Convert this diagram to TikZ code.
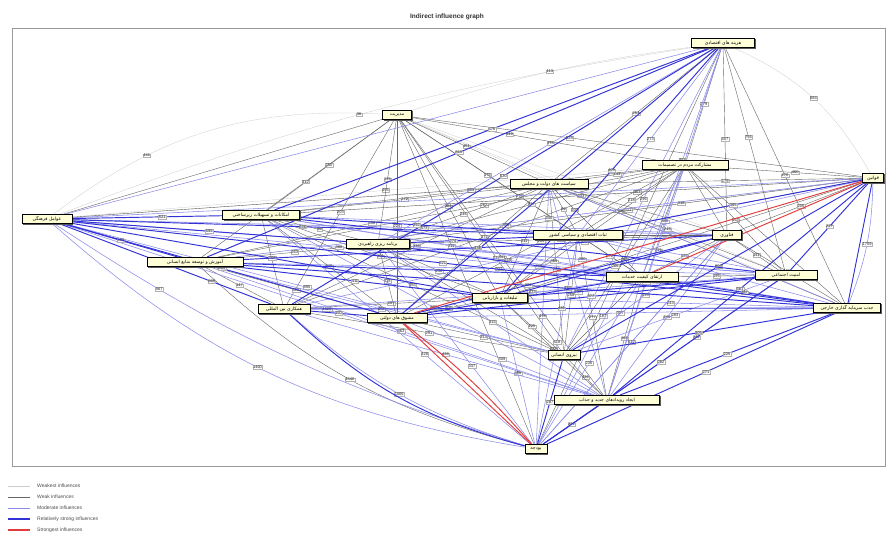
\documentclass[tikz,border=0pt]{standalone}
\usepackage{fontspec}
\setmainfont{Liberation Sans}
\newfontfamily\arabicfont[Script=Arabic]{DejaVu Sans}
\TeXXeTstate=1
\usetikzlibrary{backgrounds,shadows}
\newcommand\fatxt[1]{\beginR #1\endR}
\tikzset{
 var/.style={draw=black, line width=0.6pt, fill={rgb,255:red,255;green,255;blue,215}, inner sep=1.2pt, minimum height=9.5pt,
   font=\arabicfont\fontsize{4.6}{5}\selectfont,
   drop shadow={shadow xshift=1pt,shadow yshift=-1pt,fill=black!65,opacity=1}},
 wst/.style={draw=black!20, line width=0.3pt},
 wk/.style={draw=black!60, line width=0.4pt},
 mod/.style={draw={rgb,255:red,140;green,140;blue,235}, line width=0.55pt},
 rs/.style={draw={rgb,255:red,50;green,50;blue,215}, line width=0.95pt},
 st/.style={draw={rgb,255:red,225;green,60;blue,60}, line width=0.95pt},
 lab/.style={font=\fontsize{4}{4.5}\selectfont, text=black!85, fill=white, fill opacity=0.8, text opacity=1, inner sep=0.4pt, draw=black!30, line width=0.2pt},
 legtxt/.style={font=\fontsize{5}{6}\selectfont, text=black!70, anchor=west, inner sep=0pt},
}
\begin{document}
\begin{tikzpicture}[x=1pt,y=1pt]
\useasboundingbox (0,0) rectangle (891,-537);
\node[font=\bfseries\fontsize{6.5}{7}\selectfont, text=black!80] (title) at (447,-17) {Indirect influence graph};
\draw[black!40, line width=0.9pt] (12,-28) rectangle (885,-466);

% nodes
\node[var, minimum width=63pt] (A) at (723,-43) {\fatxt{هزینه های اقتصادی}};
\node[var, minimum width=29pt] (B) at (397,-115) {\fatxt{مدیریت}};
\node[var, minimum width=21pt] (C) at (873,-178) {\fatxt{قوانین}};
\node[var, minimum width=86pt] (D) at (685,-165) {\fatxt{مشارکت مردم در تصمیمات}};
\node[var, minimum width=78pt] (E) at (549,-184) {\fatxt{سیاست های دولت و مجلس}};
\node[var, minimum width=50pt] (F) at (47,-219) {\fatxt{عوامل فرهنگی}};
\node[var, minimum width=77pt] (G) at (261,-215) {\fatxt{امکانات و تسهیلات زیرساختی}};
\node[var, minimum width=63pt] (H) at (378,-244) {\fatxt{برنامه ریزی راهبردی}};
\node[var, minimum width=89pt] (I) at (578,-235) {\fatxt{ثبات اقتصادی و سیاسی کشور}};
\node[var, minimum width=96pt] (J) at (195,-262) {\fatxt{آموزش و توسعه منابع انسانی}};
\node[var, minimum width=29pt] (K) at (727,-235) {\fatxt{فناوری}};
\node[var, minimum width=72pt] (L) at (642,-277) {\fatxt{ارتقای کیفیت خدمات}};
\node[var, minimum width=62pt] (M) at (786,-275) {\fatxt{امنیت اجتماعی}};
\node[var, minimum width=67pt] (N) at (847,-308) {\fatxt{جذب سرمایه گذاری خارجی}};
\node[var, minimum width=55pt] (O) at (500,-298) {\fatxt{تبلیغات و بازاریابی}};
\node[var, minimum width=52pt] (P) at (284,-309) {\fatxt{همکاری بین المللی}};
\node[var, minimum width=60pt] (Q) at (397,-318) {\fatxt{مشوق های دولتی}};
\node[var, minimum width=32pt] (R) at (564,-355) {\fatxt{نیروی انسانی}};
\node[var, minimum width=105pt] (S) at (607,-400) {\fatxt{ایجاد رویدادهای جدید و جذاب}};
\node[var, minimum width=22pt] (T) at (536,-449) {\fatxt{بودجه}};

\begin{pgfonlayer}{background}
\fill[white] (0,0) rectangle (891,-537);
% weakest
\draw[wst] (F) to[bend left=20] node[lab,pos=.3]{441} (B);
\draw[wst] (F) to[bend left=6] node[lab,pos=.48]{36} (A);
\draw[wst] (B) to[bend left=5] node[lab]{113} (A);
\draw[wst] (A) to[bend left=18] node[lab]{584} (C);
\foreach \a/\b/\n/\p in {B/N/284/.5, G/C/363/.6, F/D/495/.55, B/M/321/.6}
  \draw[wst] (\a) -- node[lab,pos=\p]{\n} (\b);
\foreach \a/\b in {J/A, P/A, H/C, B/K, F/K, J/C, F/E}
  \draw[wst] (\a) -- (\b);
% weak
\foreach \a/\b/\n/\p in {B/G/250/.5, B/J/312/.45, B/H/135/.5, B/P/203/.5, B/Q/224/.55, B/O/361/.5, B/R/219/.6, B/S/341/.5, B/T/402/.55, B/I/176/.5, B/E/451/.45, B/L/274/.5, B/D/549/.4, B/C/529/.35,
 D/G/453/.5, D/H/317/.5, D/J/262/.4, D/Q/183/.5, D/O/207/.5, D/R/295/.5, D/M/154/.5, D/I/218/.5,
 E/G/272/.5, E/J/396/.5, E/M/215/.5, E/P/336/.5,
 A/D/279/.5, A/E/251/.5, A/K/407/.5, A/M/756/.4, A/N/270/.5,
 C/D/460/.5, C/E/179/.5, C/K/205/.5, C/G/233/.5, C/H/318/.4,
 G/H/96/.5, H/O/236/.5, J/Q/412/.5, P/O/287/.5, Q/R/314/.5, R/S/126/.5, O/S/238/.5, I/L/172/.5, L/M/195/.5, K/M/141/.5, O/R/225/.5, G/Q/348/.5, J/H/263/.5,
 G/O/301/.5, H/Q/118/.5, J/P/147/.5, O/Q/206/.5, I/O/229/.5, I/R/258/.5, L/R/187/.5, K/L/133/.5, K/N/165/.5, E/H/246/.5, E/I/92/.5, E/O/211/.5, E/L/203/.25, E/R/268/.5, D/E/143/.5, D/P/372/.5, H/K/339/.5, P/R/291/.5, I/S/277/.5, L/S/162/.5, G/R/355/.5}
  \draw[wk] (\a) -- node[lab,pos=\p]{\n} (\b);
\foreach \a/\b in {D/K, D/L, D/N, E/K, E/Q, E/F, E/N, B/F, C/I, C/O, A/T, I/K, H/R, G/P}
  \draw[wk] (\a) -- (\b);
\draw[wk] (J) to[bend right=14] node[lab,pos=.5]{1540} (T);
% moderate
\foreach \a/\b/\n/\p in {F/K/573/.55, F/L/388/.5, F/R/895/.5, F/S/1020/.5, A/H/375/.5, A/I/273/.5, A/L/354/.5, A/R/296/.5, A/S/445/.5, J/M/327/.5, G/L/311/.5, G/N/364/.5, H/M/280/.5, I/T/418/.5, O/N/243/.5, P/M/433/.5, Q/N/357/.5, T/K/512/.5, T/O/355/.5, T/E/478/.5, C/J/440/.5, C/P/392/.5, G/S/402/.5, J/S/463/.5, H/S/315/.5, P/S/438/.5,
 H/L/249/.5, I/M/221/.35, E/S/297/.5, G/K/376/.5, J/R/452/.5, O/L/184/.5, Q/S/309/.5,
 H/T/337/.6, G/T/428/.6, L/T/236/.5, K/S/244/.5, M/S/311/.5, K/R/199/.5, M/R/283/.5, D/S/302/.5}
  \draw[mod] (\a) -- node[lab,pos=\p]{\n} (\b);
\foreach \a/\b in {I/N, E/N, D/T, K/T, M/T, C/F, F/M, A/F}
  \draw[mod] (\a) -- (\b);
\draw[mod] (F) to[bend right=8] node[lab,pos=.22]{567} (T);
\draw[mod] (F) to[bend right=16] node[lab,pos=.47]{1460} (T);
\draw[mod] (P) to[bend right=12] node[lab,pos=.5]{1006} (T);
\draw[mod] (C) to[bend left=10] node[lab]{1759} (N);
% relatively strong
\foreach \a/\b/\n/\p in {F/G/521/.6, F/J/380/.5, F/H/599/.5, F/I/646/.5, F/O/706/.5, F/Q/815/.5, F/P/669/.72, F/N/621/.5, J/N/389/.5, A/G/476/.5, A/J/515/.5, A/P/530/.5, A/Q/547/.5, A/O/409/.5, C/M/227/.5, C/S/561/.5, C/R/604/.5, C/I/385/.5, T/S/321/.5, T/R/287/.5, T/N/271/.55, T/M/262/.5, P/Q/150/.5, Q/L/243/.5, J/O/411/.5, G/I/392/.5, O/K/266/.5, L/N/187/.5, P/N/481/.5, Q/M/377/.5, H/I/274/.35, R/N/305/.5, S/N/225/.5, J/K/446/.5}
  \draw[rs] (\a) -- node[lab,pos=\p]{\n} (\b);
\foreach \a/\b in {G/M, H/N, O/M, J/L, C/N, Q/K}
  \draw[rs] (\a) -- (\b);
\draw[rs] (P) to[bend right=14] (T);
% strongest
\draw[st] (C) -- (L);
\draw[st] (C) -- (Q);
\draw[st] (T) -- (Q);
\draw[st] (T) to[bend right=5] (Q);
\end{pgfonlayer}

% legend
\coordinate (l1a) at (8,-486); \coordinate (l1b) at (30,-486);
\coordinate (l2a) at (8,-497); \coordinate (l2b) at (30,-497);
\coordinate (l3a) at (8,-508); \coordinate (l3b) at (30,-508);
\coordinate (l4a) at (8,-519); \coordinate (l4b) at (30,-519);
\coordinate (l5a) at (8,-530); \coordinate (l5b) at (30,-530);
\draw[wst, line width=0.6pt] (l1a) -- (l1b);
\draw[wk, line width=0.6pt] (l2a) -- (l2b);
\draw[mod, line width=0.8pt] (l3a) -- (l3b);
\draw[rs, line width=1.1pt] (l4a) -- (l4b);
\draw[st, line width=1.1pt] (l5a) -- (l5b);
\node[legtxt] (t1) at (37,-486) {Weakest influences};
\node[legtxt] (t2) at (37,-497) {Weak influences};
\node[legtxt] (t3) at (37,-508) {Moderate influences};
\node[legtxt] (t4) at (37,-519) {Relatively strong influences};
\node[legtxt] (t5) at (37,-530) {Strongest influences};
\end{tikzpicture}
\end{document}
